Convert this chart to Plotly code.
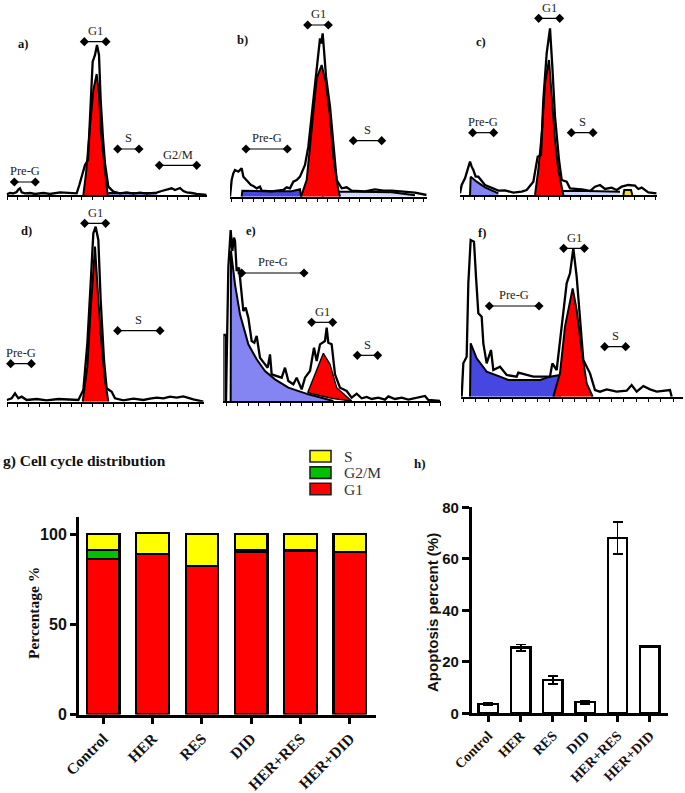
import plotly.graph_objects as go

# ---------- flow-cytometry histograms (channel, count) ----------
a_line_x = [20,30,40,50,55,60,65,75,90,105,130,150,180,200,230,238,246,255,264,272,278,285,291,297,302,309,315,325,340,360,380,400,420,440,470,485,500,515,525,540,550,560,575,590,620]
a_line_y = [2,6,5,9,16,20,8,5,6,3,6,3,8,6,5,30,60,90,105,270,400,420,450,420,285,170,95,25,10,5,8,4,7,4,7,12,16,20,15,21,12,8,6,3,0]
a_fill_x = [250,258,270,280,290,297,303,313,322,323]
a_fill_y = [0,65,205,315,363,305,185,85,15,0]
a_hatch_x = [325,470]
a_hatch_y = [6,6]

b_line_x = [15,20,25,30,40,50,55,62,70,78,85,95,105,110,140,175,185,195,205,215,225,240,250,262,272,280,285,289,293,297,303,315,325,335,350,365,380,400,420,450,475,500,540,570,605]
b_line_y = [0,50,70,80,75,85,60,52,45,35,32,25,30,18,16,20,28,25,45,50,60,95,150,260,355,410,475,460,490,440,360,270,160,50,25,28,18,18,16,22,18,18,15,12,5]
b_blue_x = [50,52,120,200,225,228]
b_blue_y = [0,18,16,16,22,0]
b_hatch_x = [290,310,400,500,570]
b_hatch_y = [0,15,15,13,4]
b_fill_x = [228,245,255,265,275,290,303,315,325,340,345]
b_fill_y = [0,50,150,260,355,395,340,240,120,20,0]

c_line_x = [15,20,30,38,45,50,55,62,70,90,110,130,150,175,200,215,235,248,258,265,275,285,292,300,312,320,335,345,380,405,420,435,450,470,485,500,520,540,550,560,580,605]
c_line_y = [5,30,50,75,100,85,75,55,55,30,22,13,14,7,10,15,40,115,120,285,425,500,385,235,105,45,40,20,17,12,25,30,18,22,15,25,30,28,18,22,8,5]
c_blue_x = [45,47,65,90,130]
c_blue_y = [0,55,40,23,5]
c_hatch_x = [285,300,400,495]
c_hatch_y = [0,12,12,10]
c_yellow_x = [505,508,528,532]
c_yellow_y = [0,15,15,0]
c_fill_x = [240,250,262,270,282,290,300,310,325]
c_fill_y = [0,75,205,335,405,285,165,75,0]

d_line_x = [20,35,45,55,65,80,110,140,175,210,235,250,262,272,280,287,295,302,312,320,335,345,370,400,430,450,470,490,510,530,550,580,610]
d_line_y = [5,10,25,10,15,5,8,4,8,5,5,35,175,355,505,525,485,305,125,40,30,10,4,9,5,9,12,10,15,12,16,7,0]
d_fill_x = [248,262,272,285,295,305,315,325]
d_fill_y = [0,105,275,465,305,165,65,0]

e_line_x = [25,25,33,33,40,47,52,57,60,65,72,78,85,92,100,110,118,125,135,150,158,165,170,200,210,220,235,245,260,270,285,297,305,315,330,335,340,350,360,375,395,410,425,440,455,470,490,510,520,540,560,580,600,630,640,675]
e_line_y = [0,198,198,0,400,513,450,490,480,390,400,340,270,280,250,180,175,195,130,110,100,140,80,70,100,60,50,70,35,70,90,160,120,170,180,220,175,170,80,40,30,10,22,8,12,6,10,4,14,6,10,4,8,15,3,0]
e_blue_x = [47,48,60,75,100,125,150,180,220,280,355]
e_blue_y = [0,450,350,260,170,125,90,65,40,20,0]
e_fill_x = [278,295,325,345,365,410,355,320]
e_fill_y = [25,70,143,110,40,0,7,15]

f_line_x = [35,40,50,55,62,72,78,85,95,100,110,123,130,150,170,200,205,250,300,307,320,335,350,360,370,380,390,400,420,435,450,470,500,530,545,560,580,600,620,640,660,665]
f_line_y = [0,100,120,340,470,465,360,250,240,160,100,140,80,90,65,60,72,60,60,100,80,220,340,370,445,360,240,110,70,20,15,22,15,18,35,15,32,22,15,18,20,0]
f_blue_x = [60,62,80,110,150,175,270,300,330,330]
f_blue_y = [0,160,115,75,60,50,50,60,65,0]
f_fill_x = [310,330,345,368,380,395,410,428]
f_fill_y = [0,70,210,325,260,140,40,0]

# ---------- gate labels: label, first channel, last channel, count ----------
a_gates = [("G1",253,318,460),("S",353,417,138),("G2/M",478,590,89),("Pre-G",43,106,39)]
b_gates = [("G1",248,310,515),("Pre-G",63,187,143),("S",385,470,168)]
c_gates = [("G1",251,314,530),("Pre-G",53,116,187),("S",349,414,187)]
d_gates = [("G1",254,317,535),("S",353,480,213),("Pre-G",32,94,114)]
e_gates = [("Pre-G",80,267,384),("G1",290,353,236),("S",427,488,137)]
f_gates = [("G1",341,403,445),("Pre-G",118,267,272),("S",464,527,150)]

# ---------- bar charts ----------
groups = ["Control","HER","RES","DID","HER+RES","HER+DID"]
g1_values = [86.5,89,82.5,90.5,91,90]
g2m_values = [5,0,0,1,0,0]
s_values = [8.5,11.7,17.5,8.5,9,10]
apoptosis = [3.5,25.5,13,4.3,68,26]
apoptosis_err = [0.4,1.2,1.5,0.6,6.2,0]

W, H = 685, 793
BLACK = "#000000"
RED = "#ff0000"
LIGHTBLUE = "#8484f2"
BLUE = "#4646e0"
SERIF = "Liberation Serif"
SANS = "Liberation Sans"

fig = go.Figure()
layout = dict(template="none", width=W, height=H, margin=dict(l=0,r=0,t=0,b=0,pad=0,autoexpand=False),
              paper_bgcolor="white", plot_bgcolor="rgba(0,0,0,0)", showlegend=False, annotations=[], shapes=[])


def px_x(p): return p / W
def px_y(p): return 1 - p / H


def add_panel(i, name, offx, offy, base, xmin, xmax, tick0, dtick, lx, ly, gates, layers, label_pos):
    xn, yn = f"x{i}", f"y{i}"
    layout[f"xaxis{i}"] = dict(domain=[px_x(offx + xmin / 3), px_x(offx + xmax / 3)], range=[xmin, xmax],
                               anchor=yn, showgrid=False, zeroline=False, showticklabels=False, automargin=False,
                               ticks="outside", ticklen=3, tickwidth=1, tickcolor=BLACK, tick0=tick0, dtick=dtick,
                               showline=True, linecolor=BLACK, linewidth=2)
    layout[f"yaxis{i}"] = dict(domain=[px_y(offy + base / 3), px_y(offy)], range=[0, base], anchor=xn,
                               visible=False, automargin=False)
    for xs, ys, color in layers:
        fig.add_trace(go.Scatter(x=xs, y=ys, xaxis=xn, yaxis=yn, mode="lines", fill="tozeroy", fillcolor=color,
                                 line=dict(color=BLACK, width=2), hoverinfo="skip"))
    fig.add_trace(go.Scatter(x=lx, y=ly, xaxis=xn, yaxis=yn, mode="lines",
                             line=dict(color=BLACK, width=2.3), hoverinfo="skip"))
    for label, g0, g1, cnt in gates:
        fig.add_trace(go.Scatter(x=[g0, g1], y=[cnt, cnt], xaxis=xn, yaxis=yn, mode="lines+markers",
                                 marker=dict(symbol="diamond", size=7, color=BLACK),
                                 line=dict(color=BLACK, width=1.2), hoverinfo="skip", cliponaxis=False))
        layout["annotations"].append(dict(x=(g0 + g1) / 2, y=cnt + 8, xref=xn, yref=yn, text=label, showarrow=False,
                                          yanchor="bottom", borderpad=0, font=dict(family=SERIF, size=12.5, color="#222222")))
    layout["annotations"].append(dict(x=label_pos[0], y=label_pos[1], xref=xn, yref=yn, text=f"<b>{name}</b>",
                                      showarrow=False, font=dict(family=SERIF, size=12.5, color="#111111")))


add_panel(1, "a)", 0, 0, 585, 20, 620, 22, 32, a_line_x, a_line_y, a_gates,
          [(a_hatch_x, a_hatch_y, "rgba(0,0,120,0.5)"), (a_fill_x, a_fill_y, RED)], (68, 453))
add_panel(2, "b)", 225, 0, 590, 15, 605, 20, 32, b_line_x, b_line_y, b_gates,
          [(b_hatch_x, b_hatch_y, "rgba(120,140,255,0.35)"), (b_blue_x, b_blue_y, BLUE), (b_fill_x, b_fill_y, RED)], (52, 470))
add_panel(3, "c)", 455, 0, 585, 15, 605, 25, 32, c_line_x, c_line_y, c_gates,
          [(c_hatch_x, c_hatch_y, "rgba(120,140,255,0.35)"), (c_blue_x, c_blue_y, LIGHTBLUE),
           (c_yellow_x, c_yellow_y, "#f0e020"), (c_fill_x, c_fill_y, RED)], (77, 458))
add_panel(4, "d)", 0, 200, 605, 20, 612, 22, 32, d_line_x, d_line_y, d_gates,
          [(d_fill_x, d_fill_y, RED)], (80, 513))
add_panel(5, "e)", 215, 200, 603, 25, 678, 35, 32, e_line_x, e_line_y, e_gates,
          [(e_blue_x, e_blue_y, LIGHTBLUE)], (107, 510))
add_panel(6, "f)", 450, 200, 590, 33, 700, 40, 37, f_line_x, f_line_y, f_gates,
          [(f_blue_x, f_blue_y, BLUE), (f_fill_x, f_fill_y, RED)], (95, 492))
# Panel e: G1 region sits on the Pre-G tail, so it is a closed region
fig.add_trace(go.Scatter(x=e_fill_x + e_fill_x[:1], y=e_fill_y + e_fill_y[:1], xaxis="x5", yaxis="y5", mode="lines",
                         fill="toself", fillcolor=RED, line=dict(color=BLACK, width=1.4), hoverinfo="skip"))

# ---------- panel g ----------
layout["xaxis7"] = dict(domain=[px_x(79), px_x(376)], range=[-0.493, 5.53], anchor="y7", showgrid=False, automargin=False,
                        zeroline=False, showline=True, linecolor=BLACK, linewidth=3, ticks="outside", ticklen=6,
                        tickwidth=2.5, tickcolor=BLACK, tickangle=-45, tickmode="array",
                        tickvals=list(range(6)), ticktext=groups,
                        tickfont=dict(family=SERIF, size=15.5, color="#111111", weight="bold"))
layout["yaxis7"] = dict(domain=[px_y(714.5), px_y(517)], range=[0, 109.6], anchor="x7", showgrid=False, automargin=False,
                        zeroline=False, showline=True, linecolor=BLACK, linewidth=3, ticks="outside", ticklen=6,
                        tickwidth=2.5, tickcolor=BLACK, tickvals=[0, 50, 100], ticktext=["0", "50", "100"],
                        tickfont=dict(family=SANS, size=16, color="#111111", weight="bold"))
layout["annotations"].append(dict(x=px_x(33), y=px_y(613), xref="paper", yref="paper", text="<b>Percentage %</b>",
                                  textangle=-90, showarrow=False, xanchor="center", yanchor="middle",
                                  font=dict(family=SERIF, size=15.5, color="#111111")))
for vals, col in [(g1_values, RED), (g2m_values, "#00c000"), (s_values, "#ffff00")]:
    fig.add_trace(go.Bar(x=list(range(6)), y=vals, width=0.66, xaxis="x7", yaxis="y7",
                         marker=dict(color=col, line=dict(color=BLACK, width=2.2)), hoverinfo="skip"))
layout["barmode"] = "stack"

# ---------- panel h ----------
layout["xaxis8"] = dict(domain=[px_x(471.7), px_x(668)], range=[-0.514, 5.56], anchor="y8", showgrid=False, automargin=False,
                        zeroline=False, showline=True, linecolor=BLACK, linewidth=2.5, ticks="outside", ticklen=6,
                        tickwidth=2.5, tickcolor=BLACK, tickangle=-45, tickmode="array",
                        tickvals=list(range(6)), ticktext=groups,
                        tickfont=dict(family=SERIF, size=14, color="#111111", weight="bold"))
layout["yaxis8"] = dict(domain=[px_y(713.3), px_y(507.3)], range=[0, 80], anchor="x8", showgrid=False, automargin=False,
                        zeroline=False, showline=True, linecolor=BLACK, linewidth=2.5, ticks="outside", ticklen=7,
                        tickwidth=2.5, tickcolor=BLACK, tickvals=[0, 20, 40, 60, 80],
                        tickfont=dict(family=SANS, size=15, color="#111111", weight="bold"))
layout["annotations"].append(dict(x=px_x(432), y=px_y(613), xref="paper", yref="paper", text="<b>Apoptosis percent (%)</b>",
                                  textangle=-90, showarrow=False, xanchor="center", yanchor="middle",
                                  font=dict(family=SANS, size=15, color="#111111")))
fig.add_trace(go.Bar(x=list(range(6)), y=apoptosis, width=0.6, xaxis="x8", yaxis="y8",
                     marker=dict(color="white", line=dict(color=BLACK, width=2.4)),
                     error_y=dict(type="data", array=apoptosis_err, color=BLACK, thickness=1.8, width=5),
                     hoverinfo="skip"))

# ---------- titles and hand-placed legend of panel g ----------
for txt, x, y, anchor, size in [("g) Cell cycle distribution", 1, 461, "left", 15.5), ("h)", 412, 464, "left", 13)]:
    layout["annotations"].append(dict(x=px_x(x), y=px_y(y), xref="paper", yref="paper", xanchor=anchor, text=f"<b>{txt}</b>",
                                      showarrow=False, font=dict(family=SERIF, size=size, color="#111111")))
legend_labels = ["S", "G2/M", "G1"]
legend_colors = ["#ffff00", "#00c000", RED]
for n, (lab, col) in enumerate(zip(legend_labels, legend_colors)):
    top = 450.5 + n * 16.4
    layout["shapes"].append(dict(type="rect", xref="paper", yref="paper", x0=px_x(310), x1=px_x(331),
                                 y0=px_y(top), y1=px_y(top + 11.5), fillcolor=col, line=dict(color="#222222", width=1.6)))
    layout["annotations"].append(dict(x=px_x(342), y=px_y(top + 6), xref="paper", yref="paper", xanchor="left",
                                      text=lab, showarrow=False, font=dict(family=SERIF, size=15.5, color="#333333")))

fig.update_layout(**layout)
fig.write_html("out.html", post_script="document.body.style.margin='0';", config={"displayModeBar": False})
